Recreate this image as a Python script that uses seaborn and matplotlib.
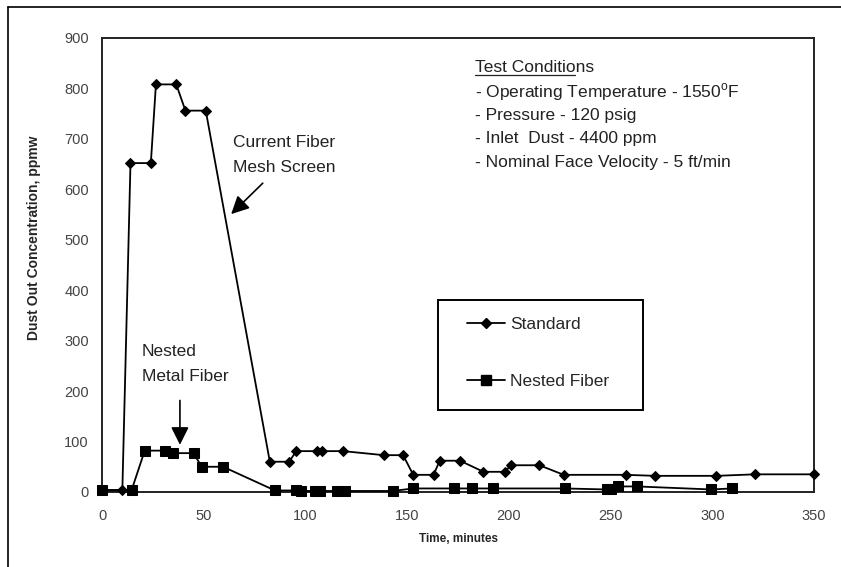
import matplotlib
matplotlib.use("Agg")
import matplotlib.pyplot as plt
from matplotlib.lines import Line2D
from matplotlib.patches import Rectangle
import seaborn as sns

# Standard (current fiber mesh screen) filter
std_time = [0, 10, 14, 24, 26.5, 36.5, 41, 51, 82.5, 92, 95.5, 105.5, 108, 118.5,
            138.5, 148, 153, 163, 166, 176, 187.5, 198, 201, 215, 227, 257.5,
            272, 302, 321, 350]
std_ppm = [4, 4, 652, 652, 808, 808, 756, 756, 60, 60, 81, 81, 81, 81,
           73, 73, 34, 34, 62, 62, 40, 40, 53, 53, 34, 34,
           32, 32, 35, 35]

# Nested metal fiber filter
nested_time = [0, 14.5, 21, 31, 35, 45, 49, 59.5, 85, 95.5, 98, 104.5, 107, 115.5,
               119.5, 143, 153, 173, 182, 192, 227.5, 248, 250, 253.5, 263,
               299.5, 309.5]
nested_ppm = [3, 3, 82, 82, 77, 77, 50, 50, 3, 3, 2, 2, 2, 2,
              2, 2, 7, 7, 7, 7, 7, 5, 5, 11, 11, 5, 7]

x_ticks = [0, 50, 100, 150, 200, 250, 300, 350]
y_ticks = [0, 100, 200, 300, 400, 500, 600, 700, 800, 900]

conditions = ["- Operating Temperature - 1550$^{\\mathregular{o}}$F",
              "- Pressure - 120 psig",
              "- Inlet  Dust - 4400 ppm",
              "- Nominal Face Velocity - 5 ft/min"]

sns.set_theme(style="white")
plt.rcParams["font.family"] = ["Liberation Sans", "DejaVu Sans"]

fig = plt.figure(figsize=(8.41, 5.67), dpi=100)
ax = fig.add_axes([0.1213, 0.1323, 0.8466, 0.8007])

sns.lineplot(x=std_time, y=std_ppm, ax=ax, color="black", lw=1.3, marker="D",
             markersize=5.5, markeredgecolor="black", estimator=None, sort=False,
             clip_on=False, zorder=3)
sns.lineplot(x=nested_time, y=nested_ppm, ax=ax, color="black", lw=1.3, marker="s",
             markersize=6.5, markeredgecolor="black", estimator=None, sort=False,
             clip_on=False, zorder=3)

ax.set_xlim(0, 350)
ax.set_ylim(0, 900)
ax.set_xticks(x_ticks)
ax.set_yticks(y_ticks)
ax.tick_params(axis="both", direction="inout", length=7, width=1.2, color="#333333",
               labelsize=10.5, labelcolor="#444444")
ax.tick_params(axis="x", pad=9)
ax.tick_params(axis="y", pad=6)
for s in ax.spines.values():
    s.set_color("#222222")
    s.set_linewidth(1.4)

ax.set_xlabel("Time, minutes", fontsize=8.5, fontweight="bold")
ax.set_ylabel("Dust Out Concentration, ppmw", fontsize=10, fontweight="bold")
ax.xaxis.set_label_coords(0.5, -0.09)
ax.yaxis.set_label_coords(-0.085, 0.56)

# annotations
ax.text(64.5, 692, "Current Fiber", fontsize=12.5, va="center", color="#222222")
ax.text(64.5, 644, "Mesh Screen", fontsize=12.5, va="center", color="#222222")
ax.annotate("", xy=(62.5, 547), xytext=(80, 616),
            arrowprops=dict(arrowstyle="-|>,head_length=0.9,head_width=0.45",
                            color="black", lw=1.2))

ax.text(19.7, 278, "Nested", fontsize=12.5, va="center", color="#222222")
ax.text(19.7, 228, "Metal Fiber", fontsize=12.5, va="center", color="#222222")
ax.annotate("", xy=(38.3, 88), xytext=(38.3, 187),
            arrowprops=dict(arrowstyle="-|>,head_length=0.9,head_width=0.45",
                            color="black", lw=1.2))

ax.text(183.4, 841, "Test Conditions", fontsize=12.5, va="center", color="#222222")
ax.plot([183.4, 232.5], [827, 827], color="#222222", lw=0.9)
for i, line in enumerate(conditions):
    ax.text(183.4, 793 - i * 46.5, line, fontsize=12.5, va="center", color="#222222")

# legend box
ax.add_patch(Rectangle((0.472, 0.181), 0.288, 0.242, transform=ax.transAxes,
                       facecolor="white", edgecolor="black", lw=1.4, zorder=4))
handles = [Line2D([], [], color="black", lw=1.3, marker="D", markersize=5.5),
           Line2D([], [], color="black", lw=1.3, marker="s", markersize=6.5)]
leg = ax.legend(handles, ["Standard", "Nested Fiber"], loc="upper left",
                bbox_to_anchor=(0.5, 0.405), frameon=False, fontsize=12.5,
                handlelength=2.2, handletextpad=0.3, labelspacing=2.4,
                borderpad=0)
leg.set_zorder(5)

# outer frame of the original figure
fig.add_artist(Line2D([0.0095, 0.0095], [0.0, 0.9877], color="black", lw=1.2))
fig.add_artist(Line2D([0.0095, 1.0], [0.9877, 0.9877], color="black", lw=1.2))

fig.savefig("out.png", dpi=100)
